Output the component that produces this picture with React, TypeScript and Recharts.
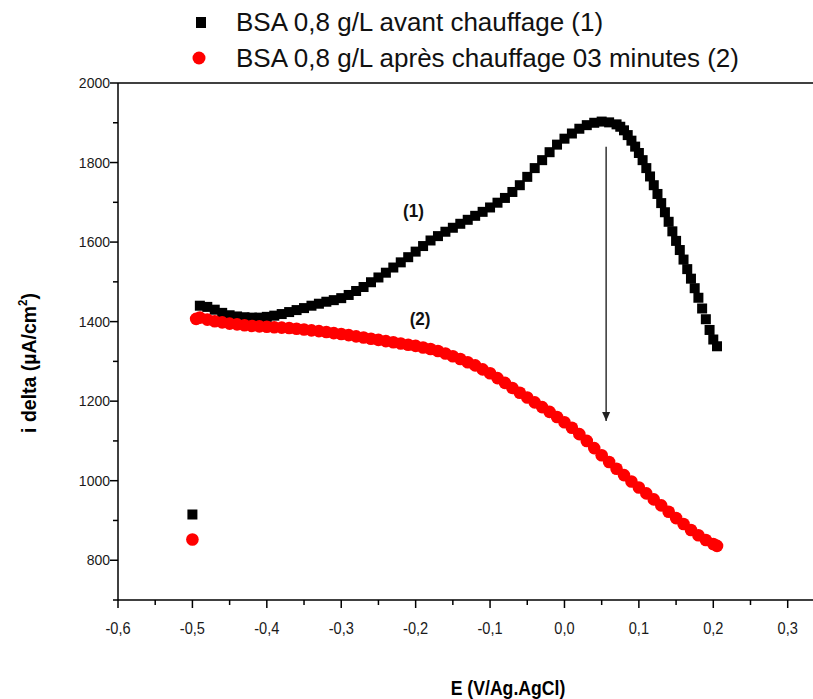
import React from 'react';
import { ScatterChart, Scatter, XAxis, YAxis, ReferenceLine, ReferenceDot } from 'recharts';

const W = 813;
const H = 699;

// Series (1): BSA 0,8 g/L avant chauffage
const blackE = [
  -0.5, -0.49, -0.48, -0.47, -0.46, -0.45, -0.44, -0.43, -0.42, -0.41, -0.40,
  -0.39, -0.38, -0.37, -0.36, -0.35, -0.34, -0.33, -0.32, -0.31, -0.30,
  -0.29, -0.28, -0.27, -0.26, -0.25, -0.24, -0.23, -0.22, -0.21, -0.20,
  -0.19, -0.18, -0.17, -0.16, -0.15, -0.14, -0.13, -0.12, -0.11, -0.10,
  -0.09, -0.08, -0.07, -0.06, -0.05, -0.04, -0.03, -0.02, -0.01, 0.00,
  0.01, 0.02, 0.03, 0.04, 0.05, 0.06, 0.07, 0.075, 0.08, 0.085, 0.09, 0.095,
  0.10, 0.105, 0.11, 0.115, 0.12, 0.125, 0.13, 0.135, 0.14, 0.145, 0.15,
  0.155, 0.16, 0.165, 0.17, 0.175, 0.18, 0.185, 0.19, 0.195, 0.20, 0.205,
];
const blackI = [
  915, 1440, 1437, 1430, 1422, 1416, 1413, 1411, 1410, 1410, 1412,
  1415, 1419, 1424, 1429, 1434, 1440, 1445, 1450, 1454, 1459,
  1467, 1477, 1487, 1499, 1511, 1523, 1536, 1549, 1562, 1576,
  1590, 1604, 1615, 1626, 1636, 1646, 1656, 1666, 1676, 1687,
  1699, 1711, 1726, 1743, 1764, 1786, 1806, 1826, 1845, 1860,
  1873, 1885, 1894, 1900, 1903, 1901, 1896, 1890, 1881, 1869, 1855, 1840,
  1824, 1806, 1786, 1765, 1743, 1721, 1698, 1675, 1651, 1627, 1603,
  1580, 1556, 1532, 1508, 1484, 1460, 1433, 1406, 1379, 1355, 1338,
];

// Series (2): BSA 0,8 g/L après chauffage 03 minutes
const redE = [
  -0.5, -0.495, -0.49, -0.48, -0.47, -0.46, -0.45, -0.44, -0.43, -0.42, -0.41, -0.40,
  -0.39, -0.38, -0.37, -0.36, -0.35, -0.34, -0.33, -0.32, -0.31, -0.30,
  -0.29, -0.28, -0.27, -0.26, -0.25, -0.24, -0.23, -0.22, -0.21, -0.20,
  -0.19, -0.18, -0.17, -0.16, -0.15, -0.14, -0.13, -0.12, -0.11, -0.10,
  -0.09, -0.08, -0.07, -0.06, -0.05, -0.04, -0.03, -0.02, -0.01, 0.00,
  0.01, 0.02, 0.03, 0.04, 0.05, 0.06, 0.07, 0.08, 0.09, 0.10,
  0.11, 0.12, 0.13, 0.14, 0.15, 0.16, 0.17, 0.18, 0.19, 0.20, 0.205,
];
const redI = [
  852, 1407, 1410, 1405, 1401, 1398, 1395, 1393, 1391, 1389, 1388, 1387,
  1386, 1385, 1384, 1382, 1380, 1378, 1376, 1374, 1371, 1369,
  1366, 1363, 1360, 1357, 1354, 1351, 1348, 1345, 1342, 1339,
  1335, 1331, 1326, 1320, 1313, 1306, 1298, 1290, 1280, 1270,
  1258, 1246, 1233, 1221, 1209, 1197, 1185, 1173, 1160, 1147,
  1133, 1117, 1100, 1082, 1064, 1047, 1030, 1014, 998, 983,
  968, 953, 938, 922, 906, 891, 876, 863, 851, 841, 836,
];

const seriesNames = [
  'BSA 0,8 g/L avant chauffage (1)',
  'BSA 0,8 g/L après chauffage 03 minutes (2)',
];

const xTicks = [
  -0.6, -0.55, -0.5, -0.45, -0.4, -0.35, -0.3, -0.25, -0.2, -0.15, -0.1,
  -0.05, 0, 0.05, 0.1, 0.15, 0.2, 0.25, 0.3,
];
const yTicks = [700, 800, 900, 1000, 1100, 1200, 1300, 1400, 1500, 1600, 1700, 1800, 1900, 2000];

const blackData = blackE.map((x, i) => ({ x, y: blackI[i] }));
const redData = redE.map((x, i) => ({ x, y: redI[i] }));

// annotation anchors (data coordinates)
const arrowTop = { x: 0.056, y: 1840 };
const arrowTip = { x: 0.056, y: 1150 };
const label1 = { x: -0.203, y: 1681, text: '(1)' };
const label2 = { x: -0.194, y: 1410, text: '(2)' };

const SANS = "'Liberation Sans', Arial, sans-serif";

const fmtX = (v: number) => v.toFixed(1).replace('.', ',').replace('-0,0', '0,0');
const isMajorX = (v: number) => Math.abs(Math.round(v * 10) - v * 10) < 1e-6;

const XTick = (p: any) => {
  const { x, y, payload } = p;
  const v = payload.value;
  const major = isMajorX(v);
  return (
    <g>
      <line x1={x} y1={y} x2={x} y2={y + (major ? 8 : 5)} stroke="#000" strokeWidth={1.5} />
      {major && (
        <text
          transform={`translate(${x},${y + 34}) scale(0.86,1)`}
          textAnchor="middle"
          fontSize={17}
          fontFamily={SANS}
          fill="#1a1a1a"
        >
          {fmtX(v)}
        </text>
      )}
    </g>
  );
};

const YTick = (p: any) => {
  const { x, y, payload } = p;
  const v = payload.value;
  const major = v % 200 === 0;
  return (
    <g>
      <line x1={x - (major ? 8 : 5)} y1={y} x2={x} y2={y} stroke="#000" strokeWidth={1.5} />
      {major && (
        <text x={x - 8} y={y + 5} textAnchor="end" fontSize={14} fontFamily={SANS} fill="#1a1a1a">
          {v}
        </text>
      )}
    </g>
  );
};

const Square = (p: any) => {
  const { cx, cy } = p;
  if (cx == null || cy == null) return null;
  return <rect x={cx - 5} y={cy - 5} width={10} height={10} fill="#000" />;
};
const Dot = (p: any) => {
  const { cx, cy } = p;
  if (cx == null || cy == null) return null;
  return <circle cx={cx} cy={cy} r={6.3} fill="#ff0000" />;
};

const ArrowHead = (p: any) => {
  const { cx, cy } = p;
  if (cx == null || cy == null) return null;
  return <path d={`M${cx - 4},${cy - 9} L${cx + 4},${cy - 9} L${cx},${cy} Z`} fill="#222" />;
};

const makeTextShape = (text: string) => (p: any) => {
  const { cx, cy } = p;
  if (cx == null || cy == null) return null;
  return (
    <text
      transform={`translate(${cx},${cy + 7}) scale(0.9,1)`}
      textAnchor="middle"
      fontSize={19}
      fontWeight="bold"
      fontFamily={SANS}
      fill="#111"
    >
      {text}
    </text>
  );
};

const XLabel = () => (
  <text
    transform="translate(508,695) scale(0.84,1)"
    textAnchor="middle"
    fontSize={21}
    fontWeight="bold"
    fontFamily={SANS}
    fill="#000"
  >
    E (V/Ag.AgCl)
  </text>
);

const YLabel = () => (
  <text
    transform="translate(36,363) rotate(-90) scale(0.95,1)"
    textAnchor="middle"
    fontSize={20.5}
    fontWeight="bold"
    fontFamily={SANS}
    fill="#000"
  >
    <tspan>i delta (µA/cm</tspan>
    <tspan fontSize={12} dy={-9}>2</tspan>
    <tspan dy={9}>)</tspan>
  </text>
);

export default function App() {
  return (
    <div style={{ position: 'absolute', left: 0, top: 0, width: W, height: H, background: '#fff' }}>
      <ScatterChart width={W} height={H} margin={{ top: 83, right: 0, bottom: 0, left: 0 }}>
        <XAxis
          type="number"
          dataKey="x"
          domain={[-0.6, 0.334]}
          allowDataOverflow
          ticks={xTicks}
          interval={0}
          height={99}
          tickSize={0}
          tickMargin={0}
          tick={(p: any) => <XTick {...p} />}
          axisLine={{ stroke: '#000', strokeWidth: 1.5 }}
          label={<XLabel />}
        />
        <YAxis
          type="number"
          dataKey="y"
          domain={[700, 2000]}
          allowDataOverflow
          ticks={yTicks}
          interval={0}
          width={118}
          tickSize={0}
          tickMargin={0}
          tick={(p: any) => <YTick {...p} />}
          axisLine={{ stroke: '#000', strokeWidth: 1.5 }}
          label={<YLabel />}
        />
        <ReferenceLine y={2000} stroke="#000" strokeWidth={1.5} />
        <Scatter data={blackData} shape={Square} isAnimationActive={false} />
        <Scatter data={redData} shape={Dot} isAnimationActive={false} />
        <ReferenceLine segment={[arrowTop, arrowTip]} stroke="#333" strokeWidth={1.5} />
        <ReferenceDot x={arrowTip.x} y={arrowTip.y} shape={ArrowHead} />
        <ReferenceDot x={label1.x} y={label1.y} shape={makeTextShape(label1.text)} />
        <ReferenceDot x={label2.x} y={label2.y} shape={makeTextShape(label2.text)} />
      </ScatterChart>
      <svg width={W} height={80} style={{ position: 'absolute', left: 0, top: 0 }}>
        <rect x={196} y={17} width={10} height={11} fill="#000" />
        <text x={236} y={31} fontSize={26} fontFamily={SANS} fill="#111">{seriesNames[0]}</text>
        <circle cx={199} cy={58} r={6.5} fill="#ff0000" />
        <text x={236} y={67} fontSize={26} fontFamily={SANS} fill="#111">{seriesNames[1]}</text>
      </svg>
    </div>
  );
}
